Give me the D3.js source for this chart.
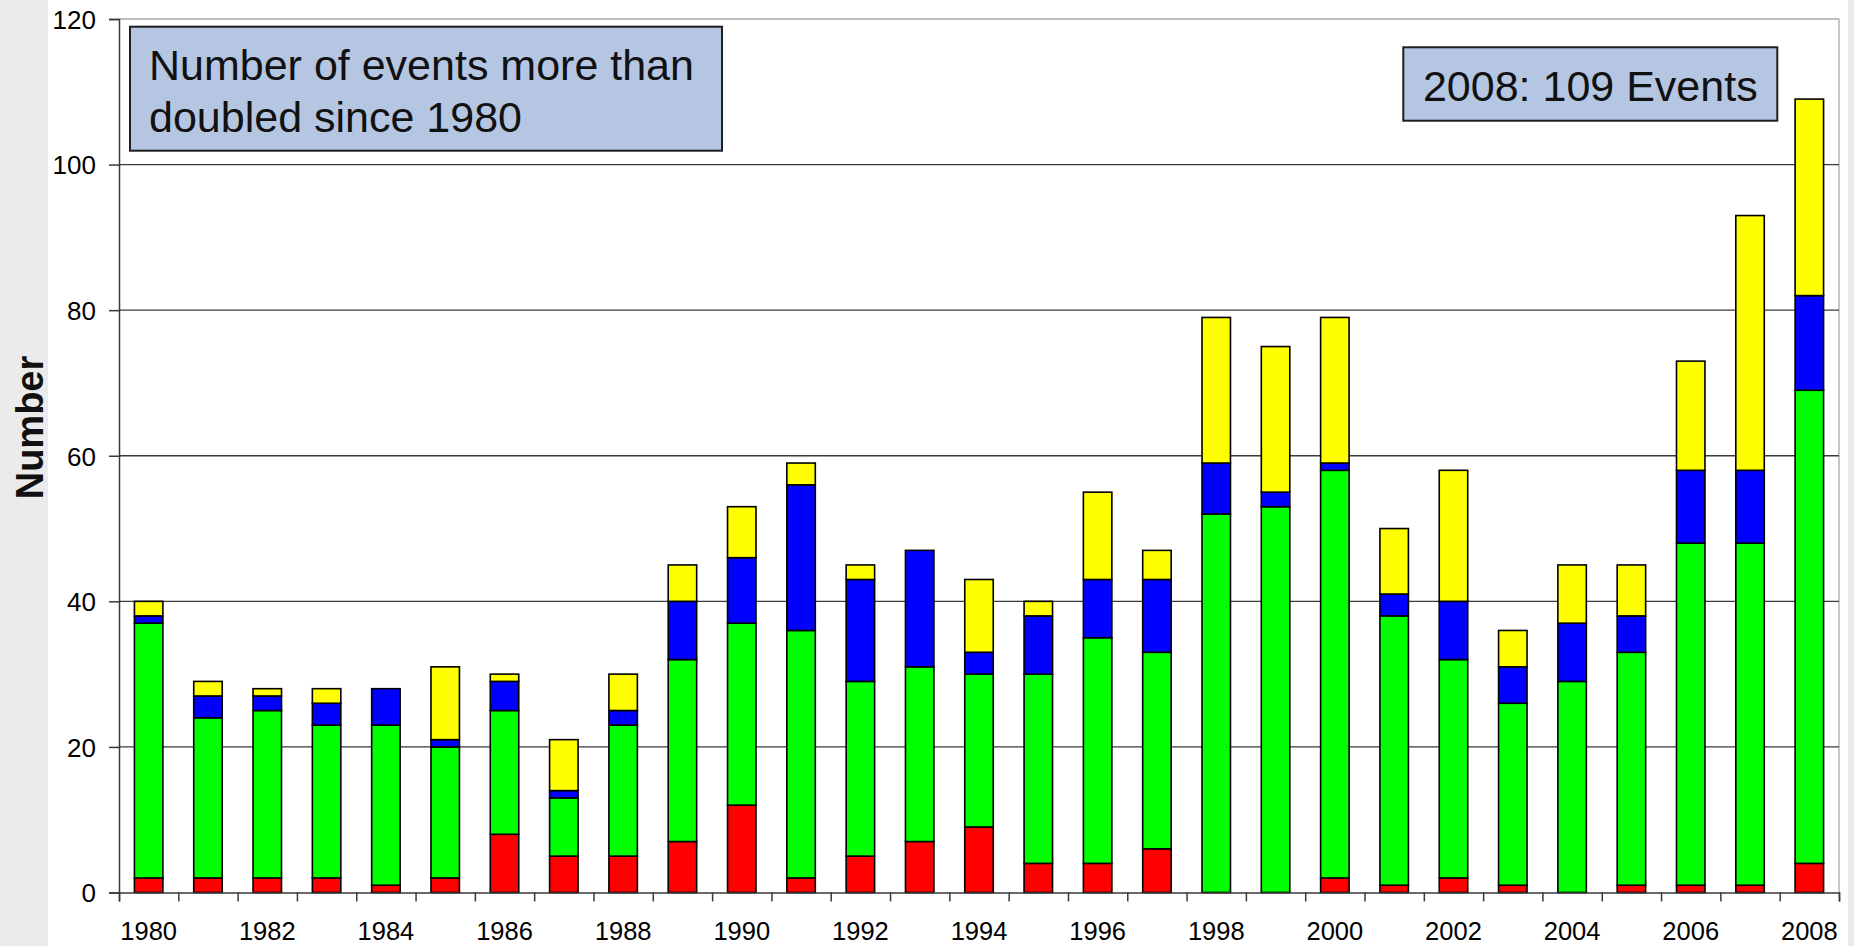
<!DOCTYPE html>
<html>
<head>
<meta charset="utf-8">
<script src="https://cdn.jsdelivr.net/npm/d3@7"></script>
<style>
  html, body { margin: 0; padding: 0; background: #ffffff; }
  svg { display: block; font-family: "Liberation Sans", Arial, sans-serif; }
</style>
</head>
<body>
<svg id="chart" width="1854" height="946"></svg>
<script>
// ---- data ----
const years = ["1980","1981","1982","1983","1984","1985","1986","1987","1988","1989",
               "1990","1991","1992","1993","1994","1995","1996","1997","1998","1999",
               "2000","2001","2002","2003","2004","2005","2006","2007","2008"];
const redSeries    = [2,2,2,2,1,2,8,5,5,7,12,2,5,7,9,4,4,6,0,0,2,1,2,1,0,1,1,1,4];
const greenSeries  = [35,22,23,21,22,18,17,8,18,25,25,34,24,24,21,26,31,27,52,53,56,37,30,25,29,32,47,47,65];
const blueSeries   = [1,3,2,3,5,1,4,1,2,8,9,20,14,16,3,8,8,10,7,2,1,3,8,5,8,5,10,10,13];
const yellowSeries = [2,2,1,2,0,10,1,7,5,5,7,3,2,0,10,2,12,4,20,20,20,9,18,5,8,7,15,35,27];
const seriesKeys   = ["red","green","blue","yellow"];
const seriesColors = ["#ff0000","#00ff00","#0000ff","#ffff00"];
const yTicks = [0,20,40,60,80,100,120];
const xTickLabels = ["1980","1982","1984","1986","1988","1990","1992","1994","1996","1998","2000","2002","2004","2006","2008"];
const yTitle = "Number";
const note1Lines = ["Number of events more than", "doubled since 1980"];
const note2Text = "2008: 109 Events";

// ---- layout ----
const svg = d3.select("#chart");
const W = 1854, H = 946;
const plotL = 119, plotR = 1839, plotT = 19, plotB = 892.5;

// background: white panel with grey margins
svg.append("rect").attr("x",0).attr("y",0).attr("width",W).attr("height",H).attr("fill","#ffffff");
svg.append("rect").attr("x",0).attr("y",0).attr("width",48).attr("height",H).attr("fill","#ebebeb");
svg.append("rect").attr("x",1848).attr("y",0).attr("width",W-1848).attr("height",H).attr("fill","#ebebeb");

const table = years.map((yr, i) => ({
  year: yr, red: redSeries[i], green: greenSeries[i], blue: blueSeries[i], yellow: yellowSeries[i]
}));
const stacked = d3.stack().keys(seriesKeys)(table);

const x = d3.scaleBand().domain(years).range([plotL, plotR]).padding(0);
const xEdge = d3.scaleLinear().domain([0, years.length]).range([plotL, plotR]);
const y = d3.scaleLinear().domain([0, 120]).range([plotB, plotT]);

// plot border (top and right, light grey)
svg.append("line").attr("x1",plotL).attr("x2",plotR).attr("y1",y(120)).attr("y2",y(120))
  .attr("stroke","#a8a8a8").attr("stroke-width",1.3);
svg.append("line").attr("x1",plotR).attr("x2",plotR).attr("y1",y(120)).attr("y2",y(0))
  .attr("stroke","#a8a8a8").attr("stroke-width",1.3);

// gridlines
svg.append("g").selectAll("line").data(yTicks.filter(d => d > 0 && d < 120)).join("line")
  .attr("x1", plotL).attr("x2", plotR)
  .attr("y1", d => y(d)).attr("y2", d => y(d))
  .attr("stroke", "#3a3a3a").attr("stroke-width", 1.3);

// bars
const barFrac = 0.48;
const bw = x.bandwidth() * barFrac;
svg.append("g").selectAll("g").data(stacked).join("g")
  .attr("fill", (d, i) => seriesColors[i])
  .selectAll("rect").data(d => d.filter(s => s[1] - s[0] > 0)).join("rect")
  .attr("x", d => x(d.data.year) + (x.bandwidth() - bw) / 2)
  .attr("width", bw)
  .attr("y", d => y(d[1]))
  .attr("height", d => y(d[0]) - y(d[1]))
  .attr("stroke", "#000").attr("stroke-width", 1.6);

// y axis
const yAxis = svg.append("g").attr("transform", `translate(${plotL},0)`)
  .call(d3.axisLeft(y).tickValues(yTicks).tickSize(10).tickPadding(13).tickFormat(d3.format("d")));
yAxis.select(".domain").attr("stroke","#3a3a3a").attr("stroke-width",1.5);
yAxis.selectAll(".tick line").attr("stroke","#3a3a3a").attr("stroke-width",1.5);
yAxis.selectAll("text").attr("font-size", 26).attr("fill","#000")
  .attr("font-family","Liberation Sans, Arial, sans-serif").attr("dy","0.36em");

// x axis: tick marks at category edges
const xTicksAxis = svg.append("g").attr("transform", `translate(0,${plotB})`)
  .call(d3.axisBottom(xEdge).tickValues(d3.range(0, years.length + 1)).tickSize(9).tickFormat(""));
xTicksAxis.select(".domain").attr("stroke","#3a3a3a").attr("stroke-width",1.5);
xTicksAxis.selectAll(".tick line").attr("stroke","#3a3a3a").attr("stroke-width",1.5);

// x axis labels (every other year), centred on their category
const xLab = svg.append("g").attr("transform", `translate(0,${plotB})`)
  .call(d3.axisBottom(x).tickValues(xTickLabels).tickSize(0).tickPadding(29.5));
xLab.select(".domain").remove();
xLab.selectAll("text").attr("font-size", 25.5).attr("fill","#000")
  .attr("font-family","Liberation Sans, Arial, sans-serif");

// y title
svg.append("text")
  .attr("transform", "translate(43,427.5) rotate(-90)")
  .attr("text-anchor","middle")
  .attr("font-size", 38).attr("font-weight","bold").attr("fill","#111")
  .text(yTitle);

// note boxes
svg.append("rect").attr("x",130).attr("y",26.7).attr("width",592).attr("height",124)
  .attr("fill","#b4c6e2").attr("stroke","#1e1e1e").attr("stroke-width",2);
svg.append("text").attr("font-size",43).attr("fill","#111")
  .selectAll("tspan").data(note1Lines).join("tspan")
  .attr("x",149).attr("y",(d,i) => 80 + i*51.7).text(d => d);

svg.append("rect").attr("x",1403.3).attr("y",47.3).attr("width",374).attr("height",73.4)
  .attr("fill","#b4c6e2").attr("stroke","#1e1e1e").attr("stroke-width",2);
svg.append("text").attr("x",1590.3).attr("y",100.7).attr("text-anchor","middle")
  .attr("font-size",43).attr("fill","#111").text(note2Text);
</script>
</body>
</html>
